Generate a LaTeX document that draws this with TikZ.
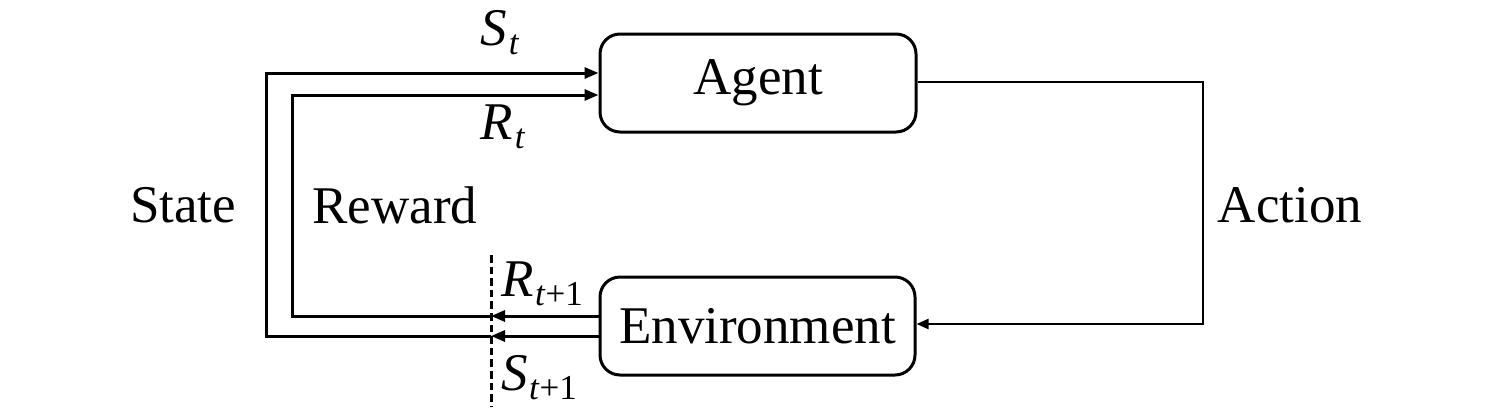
\documentclass[tikz,border=0pt]{standalone}
\usepackage{fontspec}
\setmainfont{Liberation Serif}
\usetikzlibrary{arrows.meta}
\newcommand{\sbx}[1]{\kern0.8pt\raisebox{-4.5pt}{\fontsize{17.5}{19}\selectfont #1}}
\begin{document}
\begin{tikzpicture}[x=0.5pt,y=-0.5pt,
  box/.style={draw,line width=1.5pt,rounded corners=10pt,inner sep=0pt,
    font=\fontsize{26.5}{30}\selectfont},
  lbl/.style={inner sep=0pt,font=\fontsize{26.5}{30}\selectfont},
  arr/.style={line width=1.5pt,-{Triangle[length=7pt,width=5.5pt]}},
  ln/.style={line width=1.5pt},
  act/.style={line width=1.1pt,-{Triangle[length=6pt,width=5pt]}},
  dsh/.style={line width=1.5pt,dash pattern=on 3.8pt off 2pt}]
\useasboundingbox (0,0) rectangle (1493,418);
\node[box,minimum width=158pt,minimum height=49pt] (agent) at (758,83) {Agent};
\node[box,minimum width=157.5pt,minimum height=49pt] (env) at (757.5,326) {Environment};
% dashed line
\coordinate (dtop) at (491,255);
\coordinate (dbot) at (491,407);
\draw[dsh] (dtop) -- (dbot);
% corner coordinates
\coordinate (rtip) at (491,316);
\coordinate (stip) at (491,336);
\coordinate (rbl) at (292,316);
\coordinate (rtl) at (292,95);
\coordinate (sbl) at (266,336);
\coordinate (stl) at (266,73);
\coordinate (atr) at (1203,82);
\coordinate (abr) at (1203,324);
% env outputs to the dashed line
\draw[arr] (env.west |- rtip) -- (rtip);
\draw[arr] (env.west |- stip) -- (stip);
% feedback to agent
\draw[arr] (rtip) -- (rbl) -- (rtl) -- (agent.west |- rtl);
\draw[arr] (stip) -- (sbl) -- (stl) -- (agent.west |- stl);
% action
\draw[act] (agent.east |- atr) -- (atr) -- (abr) -- (env.east |- abr);
% labels
\node[lbl] (st) at (500,33) {\textit{S}\sbx{\textit{t}}};
\node[lbl] (rt) at (503,127) {\textit{R}\sbx{\textit{t}}};
\node[lbl] (rt1) at (542,284) {\textit{R}\sbx{\textit{t}+1}};
\node[lbl] (st1) at (539,378) {\textit{S}\sbx{\textit{t}+1}};
\node[lbl] (state) at (183,205) {State};
\node[lbl] (reward) at (395,205) {Reward};
\node[lbl] (action) at (1290,205) {Action};
\end{tikzpicture}
\end{document}
